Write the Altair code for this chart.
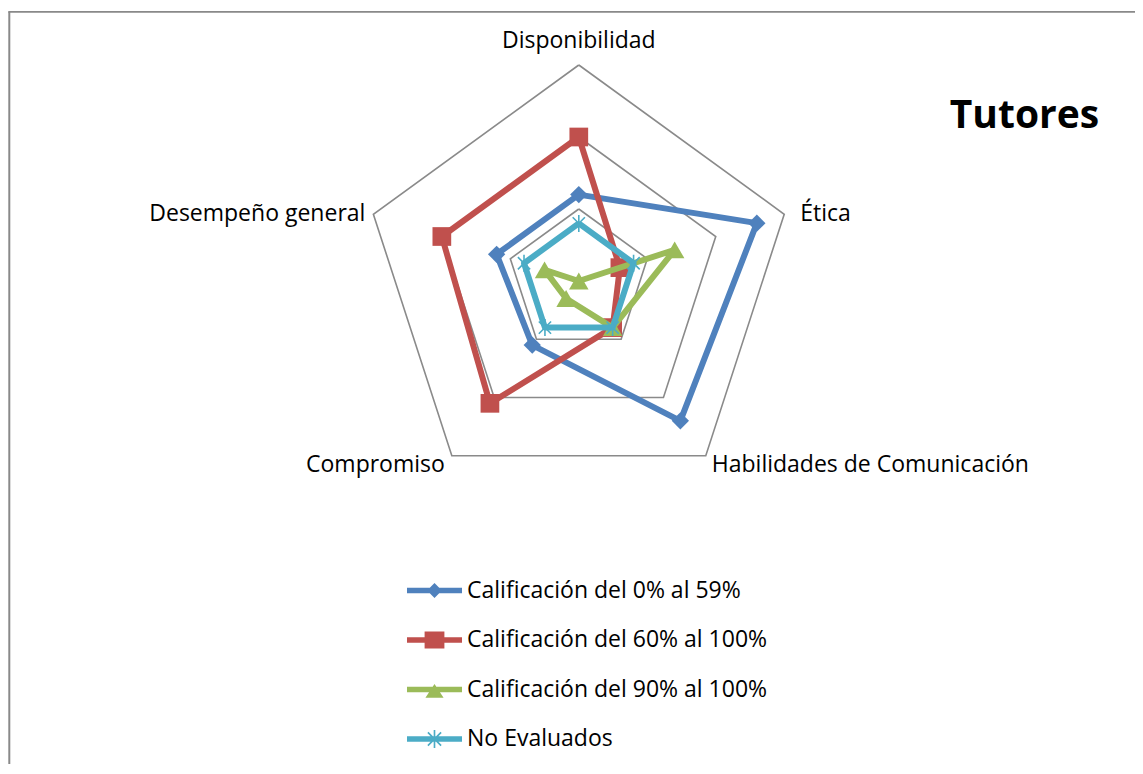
import altair as alt
import pandas as pd

# ---------------- data ----------------
categories = ["Disponibilidad", "Ética", "Habilidades de Comunicación",
              "Compromiso", "Desempeño general"]
series_names = ["Calificación del 0% al 59%", "Calificación del 60% al 100%",
                "Calificación del 90% al 100%", "No Evaluados"]
values_blue = [12, 26, 24, 11, 12]
values_red = [20, 6, 8, 21, 20]
values_green = [0, 14, 8, 3, 5]
values_cyan = [8, 8, 8, 8, 8]
grid_levels = [10, 20, 30]
series_colors = ["#4F81BD", "#C0504D", "#9BBB59", "#4BACC6"]
title_text = ["Tutores"]

series_values = [values_blue, values_red, values_green, values_cyan]
n = len(categories)

rows = []
for s, vals in zip(series_names, series_values):
    for i in range(n + 1):
        rows.append({"series": s, "idx": i, "value": vals[i % n]})
df = pd.DataFrame(rows)

grid_df = pd.DataFrame([{"level": lv, "idx": i, "value": lv}
                        for lv in grid_levels for i in range(n + 1)])
label_df = pd.DataFrame({"category": categories, "idx": list(range(n)),
                         "value": [grid_levels[-1]] * n})

# ---------------- layout ----------------
W, H = 1127, 756
CX, CY, R = 570.8, 273.0, 216.0
vmax = grid_levels[-1]
xs = alt.Scale(domain=[-vmax, vmax], range=[CX - R, CX + R])
ys = alt.Scale(domain=[-vmax, vmax], range=[CY + R, CY - R])
FONT = "Open Sans"
FS = 23


def polar(ch):
    return ch.transform_calculate(
        ang=f"datum.idx * 2 * PI / {n}"
    ).transform_calculate(
        px="datum.value * sin(datum.ang)",
        py="datum.value * cos(datum.ang)",
    )


X = alt.X("px:Q", scale=xs, axis=None)
Y = alt.Y("py:Q", scale=ys, axis=None)

layers = []

# border (chart area frame)
frame = pd.DataFrame({"a": [0]})
layers.append(alt.Chart(frame).mark_rule(color="#898989", strokeWidth=2).encode(
    x=alt.value(1.3), y=alt.value(3.8), y2=alt.value(H)))
layers.append(alt.Chart(frame).mark_rule(color="#898989", strokeWidth=1.8).encode(
    x=alt.value(0.3), x2=alt.value(W), y=alt.value(3.8)))

# grid pentagons
layers.append(polar(alt.Chart(grid_df)).mark_line(
    color="#8a8a8a", strokeWidth=1.6, strokeJoin="miter").encode(
    x=X, y=Y, detail="level:N", order="idx:Q"))

# series
star_path = "M0,-1L0,1M-0.72,-0.72L0.72,0.72M-0.72,0.72L0.72,-0.72"
marker_specs = [
    dict(shape="diamond", filled=True, size=300),
    dict(shape="square", filled=True, size=350),
    dict(shape="triangle-up", filled=True, size=380),
    dict(shape=star_path, filled=False, size=290, strokeWidth=1.6),
]
for s, col, ms in zip(series_names, series_colors, marker_specs):
    base = polar(alt.Chart(df)).transform_filter(alt.datum.series == s)
    layers.append(base.mark_line(color=col, strokeWidth=6, strokeJoin="round").encode(
        x=X, y=Y, order="idx:Q"))
    layers.append(base.transform_filter(alt.datum.idx < n).mark_point(
        color=col, opacity=1, **ms).encode(x=X, y=Y))

# category labels
label_specs = [
    dict(align="center", dx=0, dy=-24),
    dict(align="left", dx=16, dy=0),
    dict(align="left", dx=6, dy=9),
    dict(align="right", dx=-7, dy=9),
    dict(align="right", dx=-8, dy=0),
]
for i, ls in enumerate(label_specs):
    layers.append(polar(alt.Chart(label_df)).transform_filter(alt.datum.idx == i).mark_text(
        font=FONT, fontSize=FS, color="black", baseline="middle", **ls).encode(
        x=X, y=Y, text="category:N"))

# title
layers.append(alt.Chart(pd.DataFrame({"t": title_text})).mark_text(
    font=FONT, fontSize=39, fontWeight="bold", color="black",
    align="center", baseline="alphabetic").encode(
    x=alt.value(1016.5), y=alt.value(120.3), text="t:N"))

# legend (native legend, line+marker symbols as custom paths)
line_p = "M-1,-0.1L1,-0.1L1,0.1L-1,0.1Z"
legend_paths = [
    line_p + "M0,-0.27L0.27,0L0,0.27L-0.27,0Z",
    line_p + "M-0.36,-0.31L0.36,-0.31L0.36,0.31L-0.36,0.31Z",
    line_p + "M0,-0.2L0.33,0.3L-0.33,0.3Z",
    line_p + ("M-0.03,-0.33L0.03,-0.33L0.03,0.33L-0.03,0.33Z"
              "M-0.219,-0.261L0.261,0.219L0.219,0.261L-0.261,-0.219Z"
              "M-0.261,0.219L0.219,-0.261L0.261,-0.219L-0.219,0.261Z"),
]
leg = dict(orient="none", legendX=399, legendY=555, title=None,
           symbolSize=3025, symbolStrokeWidth=0, symbolOpacity=1,
           labelFont=FONT, labelFontSize=FS, labelColor="black",
           labelOffset=5, labelLimit=500, rowPadding=9.5, padding=0)
cs = alt.Scale(domain=series_names, range=series_colors)
shp = alt.Scale(domain=series_names, range=legend_paths)
layers.append(alt.Chart(pd.DataFrame({"series": series_names})).transform_filter(
    "false").mark_point(filled=True, opacity=1, strokeWidth=0).encode(
    fill=alt.Fill("series:N", scale=cs, legend=alt.Legend(**leg)),
    shape=alt.Shape("series:N", scale=shp, legend=alt.Legend(**leg)),
))

chart = alt.layer(*layers).properties(
    width=W, height=H, padding=0,
    autosize=alt.AutoSizeParams(type="none"),
).configure_view(stroke=None)

chart.save("out.html", embed_options={"renderer": "svg", "actions": False})
